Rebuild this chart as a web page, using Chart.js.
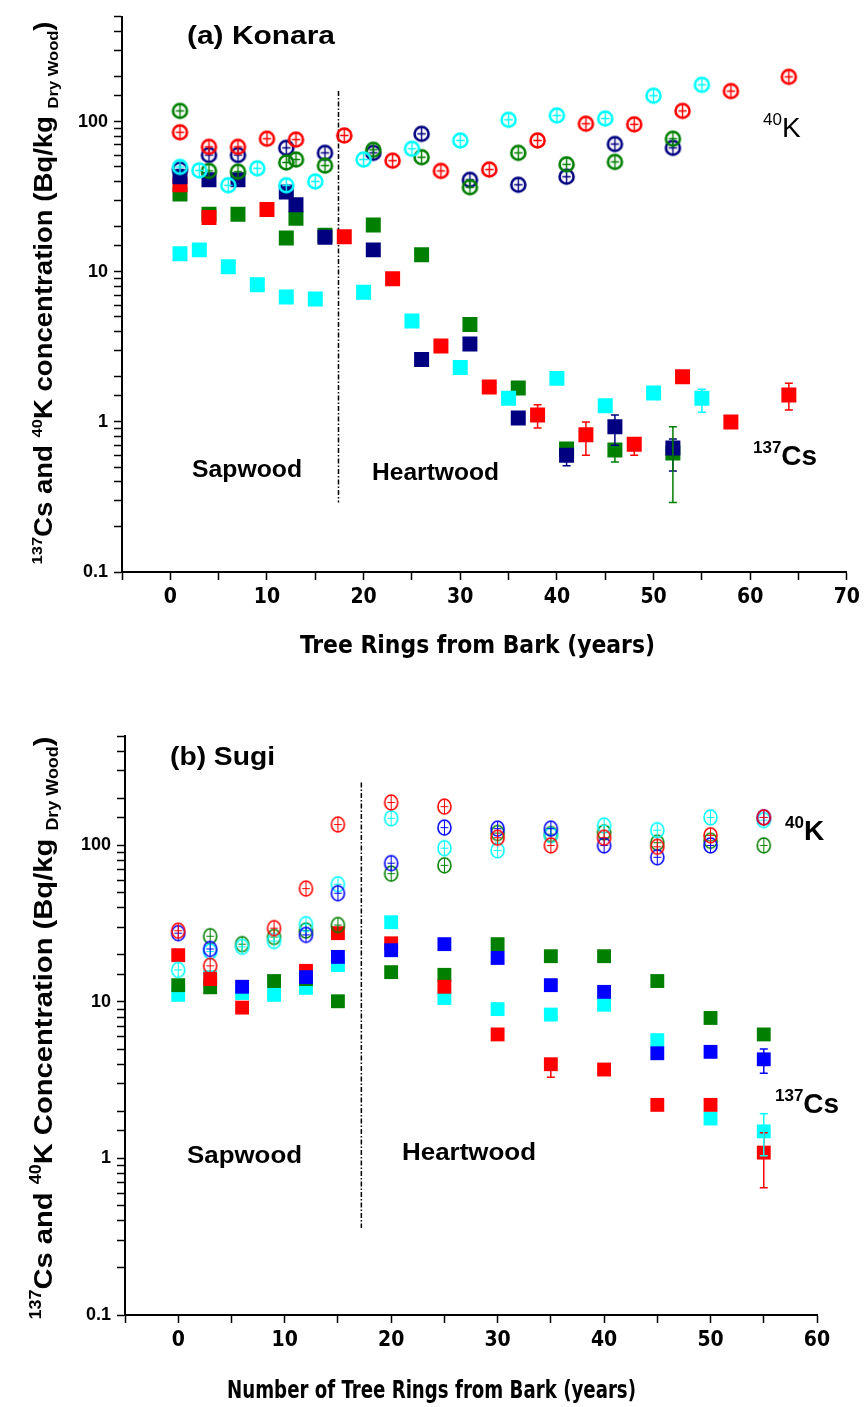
<!DOCTYPE html>
<html lang="en">
<head>
<meta charset="UTF-8">
<title>137Cs and 40K in tree rings: Konara and Sugi</title>
<script src="https://cdn.jsdelivr.net/npm/chart.js"></script>
<style>
  body { margin: 0; background: #fff; }
  #wrap { position: relative; width: 865px; height: 1407px; }
  .box { position: absolute; left: 0; width: 865px; }
  #boxA { top: 0; height: 700px; }
  #boxB { top: 700px; height: 707px; }
</style>
</head>
<body>
<div id="wrap">
  <div class="box" id="boxA"><canvas id="konaraChart"></canvas></div>
  <div class="box" id="boxB"><canvas id="sugiChart"></canvas></div>
</div>

<script>
// ---- (a) Konara : [ring from bark, Bq/kg] ----
const konaraRedK   = [[1,85],[4,68],[7,68],[10,77],[13,76],[18,81],[23,55],[28,47],[33,48],[38,75],[43,97],[48,96],[53,118],[58,160],[64,199]];
const konaraNavyK  = [[1,48],[4,60],[7,60],[12,67],[16,62],[21,62],[26,83],[31,41],[36,38],[41,43],[46,71],[52,67]];
const konaraGreenK = [[1,118],[4,47],[7,46.5],[12,53.5],[13,56],[16,51],[21,65],[26,58],[31,36.6],[36,62],[41,52],[46,54],[52,77]];
const konaraCyanK  = [[1,50],[3,47.4],[6,37.7],[9,48.9],[12,37.7],[15,40],[20,56],[25,66],[30,75],[35,103],[40,110],[45,105],[50,149],[55,176]];

const konaraRedCs   = [[1,38],[4,23],[10,26],[18,17.1],[23,9.0],[28,3.2],[33,1.71],[38,1.11],[43,0.82],[48,0.71],[53,2.0],[58,1.0],[64,1.51]];
const konaraNavyCs  = [[1,43],[4,41],[7,41],[12,34],[13,28],[16,17],[21,14],[26,2.6],[31,3.3],[36,1.06],[41,0.6],[46,0.93],[52,0.67]];
const konaraGreenCs = [[1,33],[4,24.2],[7,24.2],[12,16.8],[13,22.7],[16,17.5],[21,20.5],[26,13],[31,4.46],[36,1.68],[41,0.66],[46,0.65],[52,0.62]];
const konaraCyanCs  = [[1,13.2],[3,14.0],[6,10.8],[9,8.2],[12,6.8],[15,6.6],[20,7.3],[25,4.7],[30,2.3],[35,1.44],[40,1.95],[45,1.28],[50,1.56],[55,1.44]];

// error bars: [ring, low, high]
const konaraRedErr   = [[33,1.6,1.71],[38,0.91,1.3],[43,0.6,1.0],[48,0.6,0.71],[64,1.2,1.81]];
const konaraNavyErr  = [[41,0.51,0.6],[46,0.70,1.11],[52,0.47,0.77]];
const konaraGreenErr = [[46,0.54,0.65],[52,0.29,0.93]];
const konaraCyanErr  = [[55,1.16,1.65]];

// ---- (b) Sugi ----
const sugiRedK   = [[0,28.5],[3,17],[9,29.6],[12,53],[15,136],[20,188],[25,177],[30,112],[35,100],[40,112],[45,98],[50,116],[55,151]];
const sugiBlueK  = [[0,27.5],[3,21.8],[12,26.8],[15,49.5],[20,77],[25,130],[30,128],[35,128],[40,100],[45,84],[50,100],[55,151]];
const sugiGreenK = [[3,26.3],[6,23.4],[9,26],[12,28.6],[15,31],[20,66],[25,74.6],[30,120],[35,118],[40,121],[45,104],[50,107],[55,100]];
const sugiCyanK  = [[0,16],[3,21],[6,22.5],[9,24.5],[12,31.4],[15,56.5],[20,149],[25,96],[30,93],[35,116],[40,134],[45,125],[50,151],[55,145]];

const sugiRedCs   = [[0,19.9],[3,14],[6,9.2],[12,15.8],[15,27.5],[20,23.7],[25,12.5],[30,6.2],[35,4.0],[40,3.7],[45,2.2],[50,2.2],[55,1.09]];
const sugiBlueCs  = [[6,12.5],[12,14.4],[15,19.4],[20,21.4],[25,23.4],[30,19.1],[35,12.8],[40,11.6],[45,4.7],[50,4.8],[55,4.3]];
const sugiGreenCs = [[0,12.8],[3,12.4],[9,13.6],[12,14],[15,10.1],[20,15.5],[25,14.9],[30,23.4],[35,19.6],[40,19.6],[45,13.6],[50,7.9],[55,6.2]];
const sugiCyanCs  = [[0,11.1],[3,14.4],[6,11.4],[9,11.1],[12,12.3],[15,17.2],[20,32.3],[25,10.6],[30,9.0],[35,8.3],[40,9.6],[45,5.7],[50,1.8],[55,1.49]];

const sugiRedErr  = [[35,3.3,4.0],[55,0.65,1.46]];
const sugiBlueErr = [[55,3.5,5.0]];
const sugiCyanErr = [[55,1.04,1.93]];

const RED = '#ff0000', NAVY = '#000080', BLUE = '#0000ff', GREEN = '#007f00', CYAN = '#00ffff';

// open circle with cross, used for 40K
function ring(color, rx, ry, lw) {
  const c = document.createElement('canvas');
  c.width = Math.ceil(rx * 2 + lw + 2);
  c.height = Math.ceil(ry * 2 + lw + 2);
  const g = c.getContext('2d');
  const cx = c.width / 2, cy = c.height / 2;
  g.strokeStyle = color;
  g.lineWidth = lw;
  g.beginPath();
  g.ellipse(cx, cy, rx, ry, 0, 0, Math.PI * 2);
  g.stroke();
  g.lineWidth = Math.max(1, lw * 0.55);
  g.beginPath();
  g.moveTo(cx - rx * 0.6, cy); g.lineTo(cx + rx * 0.6, cy);
  g.moveTo(cx, cy - ry); g.lineTo(cx, cy + ry);
  g.stroke();
  return c;
}

function sc(pts, style, color, radius) {
  return {
    data: pts.map(p => ({ x: p[0], y: p[1] })),
    pointStyle: style,
    pointRadius: radius,
    pointBackgroundColor: color,
    pointBorderColor: color,
    pointBorderWidth: 0,
    showLine: false
  };
}

const narrow = '"Liberation Sans Narrow", "Arial Narrow", "DejaVu Sans Condensed", sans-serif';
const sans = '"Liberation Sans", Arial, Helvetica, sans-serif';

// text stretched to a known width
function fitText(ctx, str, x, y, font, width) {
  ctx.save();
  ctx.font = font;
  const w = ctx.measureText(str).width;
  ctx.translate(x, y);
  ctx.scale(width / w, 1);
  ctx.fillStyle = '#000';
  ctx.textBaseline = 'alphabetic';
  ctx.fillText(str, 0, 0);
  ctx.restore();
}

// text with superscripts/subscripts; parts = [[text, ''|'sup'|'sub'], ...]
function richText(ctx, parts, x, y, size, opts) {
  opts = opts || {};
  const weight = opts.weight || 'bold';
  const fontFor = k => weight + ' ' + (k ? Math.round(size * 0.6) : size) + 'px ' + sans;
  ctx.save();
  let total = 0;
  parts.forEach(p => { ctx.font = fontFor(p[1]); total += ctx.measureText(p[0]).width; });
  ctx.translate(x, y);
  if (opts.rotate) ctx.rotate(-Math.PI / 2);
  const k = opts.length ? opts.length / total : 1;
  ctx.scale(k, 1);
  let cx = opts.center ? -total / 2 : 0;
  ctx.fillStyle = '#000';
  ctx.textBaseline = 'alphabetic';
  parts.forEach(p => {
    ctx.font = fontFor(p[1]);
    const dy = p[1] === 'sup' ? -size * 0.42 : (p[1] === 'sub' ? size * 0.22 : 0);
    ctx.fillText(p[0], cx, dy);
    cx += ctx.measureText(p[0]).width;
  });
  ctx.restore();
}

function errorPlugin(sets) {
  return {
    id: 'errorBars',
    afterDatasetsDraw(chart) {
      const { ctx, scales: { x, y } } = chart;
      sets.forEach(s => {
        ctx.save();
        ctx.strokeStyle = s.color;
        ctx.lineWidth = 1.5;
        s.data.forEach(([xv, lo, hi]) => {
          const px = x.getPixelForValue(xv);
          const p1 = y.getPixelForValue(lo), p2 = y.getPixelForValue(hi);
          ctx.beginPath();
          ctx.moveTo(px, p1); ctx.lineTo(px, p2);
          ctx.moveTo(px - 4, p1); ctx.lineTo(px + 4, p1);
          ctx.moveTo(px - 4, p2); ctx.lineTo(px + 4, p2);
          ctx.stroke();
        });
        ctx.restore();
      });
    }
  };
}

function dividerPlugin(xv, yLo, yHi) {
  return {
    id: 'divider',
    beforeDatasetsDraw(chart) {
      const { ctx, scales: { x, y } } = chart;
      const px = x.getPixelForValue(xv);
      ctx.save();
      ctx.strokeStyle = '#000';
      ctx.lineWidth = 1.5;
      ctx.setLineDash([5, 2, 1.5, 2]);
      ctx.beginPath();
      ctx.moveTo(px, y.getPixelForValue(yHi));
      ctx.lineTo(px, y.getPixelForValue(yLo));
      ctx.stroke();
      ctx.restore();
    }
  };
}

function scalesFor(xMax, yWidth, xHeight, xFont) {
  return {
    x: {
      type: 'linear', min: -5, max: xMax,
      afterFit(s) { s.height = xHeight; },
      ticks: {
        stepSize: 5, autoSkip: false, maxRotation: 0, padding: 5, color: '#000',
        font: { family: narrow, size: xFont, weight: 'bold' },
        callback: v => (v % 10 === 0 ? String(v) : '')
      },
      grid: { drawOnChartArea: false, tickLength: 8, tickColor: '#000', tickWidth: 1.5 },
      border: { color: '#000', width: 2 }
    },
    y: {
      type: 'logarithmic', min: 0.1, max: 500,
      afterFit(s) { s.width = yWidth; },
      ticks: {
        autoSkip: false, padding: 6, color: '#000',
        font: { family: sans, size: 18, weight: 'bold' },
        callback: v => {
          const l = Math.log10(v);
          return Math.abs(l - Math.round(l)) < 1e-6 ? (v < 1 ? '0.1' : String(Math.round(v))) : '';
        }
      },
      grid: { drawOnChartArea: false, tickLength: 8, tickColor: '#000', tickWidth: 1.5 },
      border: { color: '#000', width: 2 }
    }
  };
}

const common = {
  responsive: true,
  maintainAspectRatio: false,
  animation: false,
  events: [],
  plugins: { legend: { display: false }, tooltip: { enabled: false } }
};

// ---------- (a) Konara ----------
const ringA = c => ring(c, 7, 7, 2.6);
new Chart(document.getElementById('konaraChart'), {
  type: 'scatter',
  data: {
    datasets: [
      sc(konaraCyanK, ringA(CYAN), CYAN, 8),
      sc(konaraRedK, ringA(RED), RED, 8),
      sc(konaraGreenK, ringA(GREEN), GREEN, 8),
      sc(konaraNavyK, ringA(NAVY), NAVY, 8),
      sc(konaraCyanCs, 'rect', CYAN, 10.6),
      sc(konaraNavyCs, 'rect', NAVY, 10.6),
      sc(konaraRedCs, 'rect', RED, 10.6),
      sc(konaraGreenCs, 'rect', GREEN, 10.6)
    ]
  },
  options: Object.assign({}, common, {
    layout: { padding: { left: 52, right: 13, top: 16, bottom: 78 } },
    scales: scalesFor(70, 70, 50, 21)
  }),
  plugins: [
    dividerPlugin(17.4, 0.29, 160),
    errorPlugin([
      { color: RED, data: konaraRedErr }, { color: NAVY, data: konaraNavyErr },
      { color: GREEN, data: konaraGreenErr }, { color: CYAN, data: konaraCyanErr }
    ]),
    {
      id: 'textA',
      afterDraw(chart) {
        const ctx = chart.ctx;
        fitText(ctx, '(a) Konara', 187, 44, 'bold 25px ' + sans, 148);
        fitText(ctx, 'Sapwood', 192, 477, 'bold 23px ' + sans, 110);
        fitText(ctx, 'Heartwood', 372, 480, 'bold 23px ' + sans, 127);
        richText(ctx, [['40', 'sup'], ['K', '']], 763, 137, 28, { weight: 'normal' });
        richText(ctx, [['137', 'sup'], ['Cs', '']], 753, 465, 28);
        fitText(ctx, 'Tree Rings from Bark (years)', 300, 653, 'bold 25px ' + narrow, 355);
        richText(ctx, [['137', 'sup'], ['Cs and ', ''], ['40', 'sup'], ['K concentration (Bq/kg ', ''], ['Dry Wood', 'sub'], [')', '']],
          52, 293, 25, { rotate: true, center: true, length: 543 });
      }
    }
  ]
});

// ---------- (b) Sugi ----------
const ringB = c => ring(c, 6.5, 7.5, 1.6);
new Chart(document.getElementById('sugiChart'), {
  type: 'scatter',
  data: {
    datasets: [
      sc(sugiRedK, ringB(RED), RED, 8),
      sc(sugiBlueK, ringB(BLUE), BLUE, 8),
      sc(sugiCyanK, ringB(CYAN), CYAN, 8),
      sc(sugiGreenK, ringB(GREEN), GREEN, 8),
      sc(sugiBlueCs, 'rect', BLUE, 9.8),
      sc(sugiRedCs, 'rect', RED, 9.8),
      sc(sugiGreenCs, 'rect', GREEN, 9.8),
      sc(sugiCyanCs, 'rect', CYAN, 9.8)
    ]
  },
  options: Object.assign({}, common, {
    layout: { padding: { left: 55, right: 48, top: 36, bottom: 42 } },
    scales: scalesFor(60, 70, 50, 21)
  }),
  plugins: [
    dividerPlugin(17.2, 0.36, 252),
    errorPlugin([
      { color: RED, data: sugiRedErr }, { color: BLUE, data: sugiBlueErr }, { color: CYAN, data: sugiCyanErr }
    ]),
    {
      id: 'textB',
      afterDraw(chart) {
        const ctx = chart.ctx;
        fitText(ctx, '(b) Sugi', 170, 65, 'bold 25px ' + sans, 105);
        fitText(ctx, 'Sapwood', 187, 463, 'bold 23px ' + sans, 115);
        fitText(ctx, 'Heartwood', 402, 460, 'bold 23px ' + sans, 134);
        richText(ctx, [['40', 'sup'], ['K', '']], 785, 140, 28);
        richText(ctx, [['137', 'sup'], ['Cs', '']], 775, 413, 28);
        fitText(ctx, 'Number of Tree Rings from Bark (years)', 227, 698, 'bold 24px ' + narrow, 409);
        richText(ctx, [['137', 'sup'], ['Cs and ', ''], ['40', 'sup'], ['K Concentration (Bq/kg ', ''], ['Dry Wood', 'sub'], [')', '']],
          52, 328, 26, { rotate: true, center: true, length: 583 });
      }
    }
  ]
});
</script>
</body>
</html>
